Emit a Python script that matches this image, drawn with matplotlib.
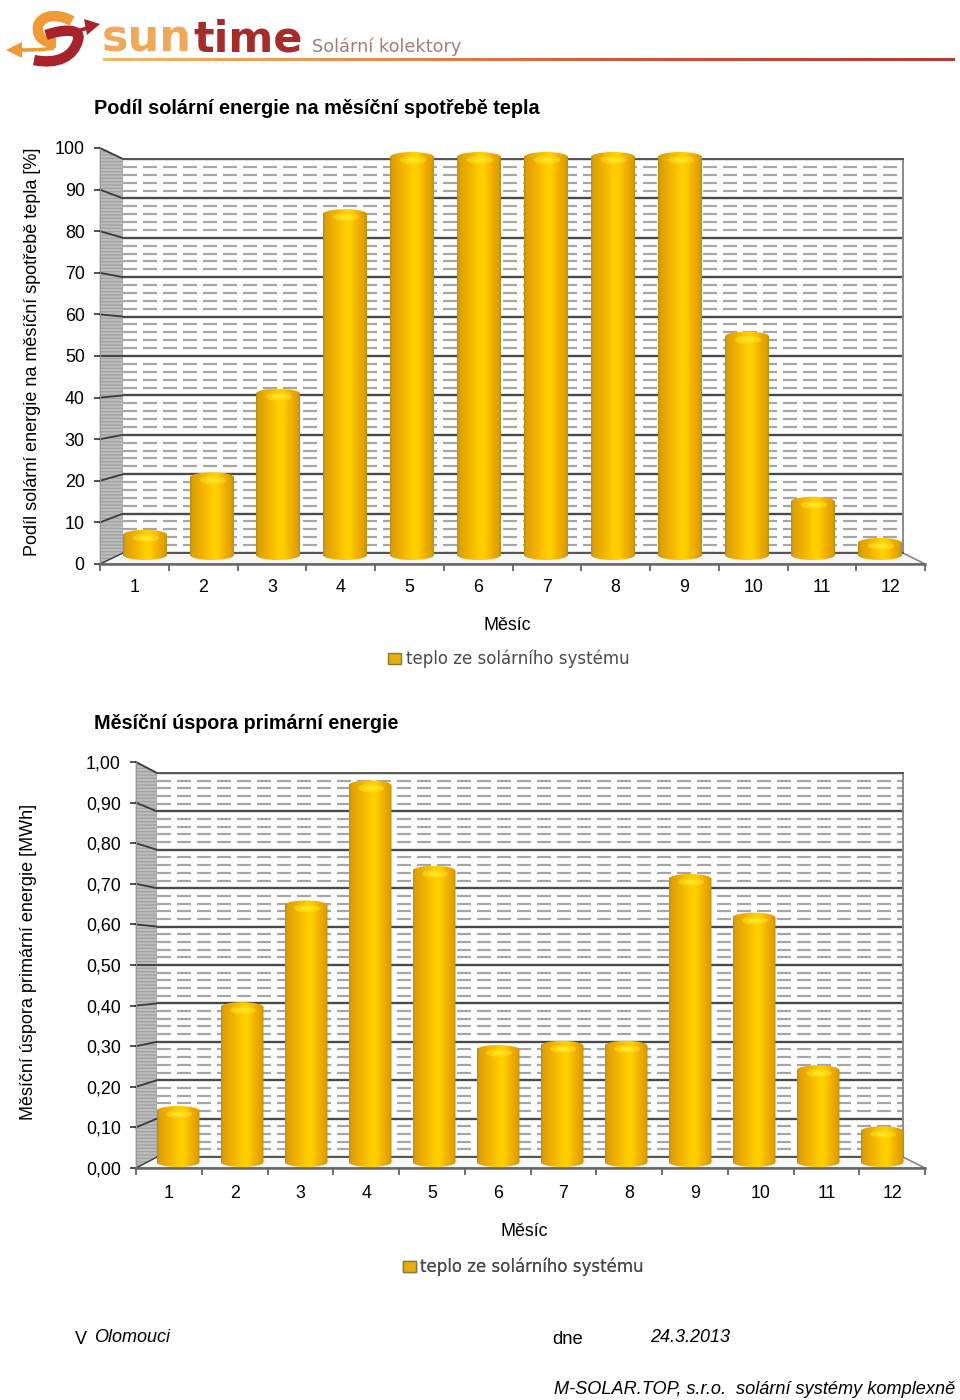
import numpy as np
import matplotlib
matplotlib.use("Agg")
import matplotlib.pyplot as plt
from matplotlib.colors import LinearSegmentedColormap
from matplotlib.patches import Polygon, PathPatch, Ellipse, Patch
from matplotlib.path import Path
from matplotlib.ticker import MultipleLocator, FixedLocator

plt.rcParams['font.family'] = ['Liberation Sans', 'DejaVu Sans']

months = [str(i) for i in range(1, 13)]
share_values = [7.4, 21.5, 42, 86, 100, 100, 100, 100, 100, 56, 15.5, 5.4]
saving_values = [0.15, 0.405, 0.655, 0.95, 0.74, 0.30, 0.31, 0.31, 0.72, 0.625, 0.25, 0.10]
share_ticks = list(range(0, 101, 10))
saving_ticks = [round(i * 0.1, 1) for i in range(11)]
title_share = "Podíl solární energie na měsíční spotřebě tepla"
title_saving = "Měsíční úspora primární energie"
ylabel_share = "Podíl solární energie na měsíční spotřebě tepla [%]"
ylabel_saving = "Měsíční úspora primární energie [MWh]"
xlabel = "Měsíc"
series = "teplo ze solárního systému"

W, H = 960, 1400
fig = plt.figure(figsize=(W / 100, H / 100), dpi=100, facecolor='white')

def px_axes(x0, y_top, x1, y_bot, z):
    ax = fig.add_axes([x0 / W, 1 - y_bot / H, (x1 - x0) / W, (y_bot - y_top) / H], zorder=z)
    ax.patch.set_alpha(0)
    return ax

deco = px_axes(0, 0, W, H, 0)
deco.set_xlim(0, W); deco.set_ylim(H, 0); deco.axis('off')

bar_cmap = LinearSegmentedColormap.from_list('cyl', [
    (0.00, '#B09020'), (0.05, '#DDA008'), (0.25, '#F0B000'), (0.50, '#FFCC00'),
    (0.62, '#FFD000'), (0.85, '#EDA800'), (0.95, '#DDA000'), (1.00, '#B09020')])
grad = np.linspace(0, 1, 128).reshape(1, -1)

def cyl_path(xc, w, v, ry):
    k = 0.5523
    l, r = xc - w / 2, xc + w / 2
    rx = w / 2
    verts = [(l, ry), (l, v - ry),
             (l, v - ry + k * ry), (xc - k * rx, v), (xc, v),
             (xc + k * rx, v), (r, v - ry + k * ry), (r, v - ry),
             (r, ry),
             (r, ry - k * ry), (xc + k * rx, 0), (xc, 0),
             (xc - k * rx, 0), (l, ry - k * ry), (l, ry),
             (l, ry)]
    codes = [Path.MOVETO, Path.LINETO] + [Path.CURVE4] * 6 + [Path.LINETO] + [Path.CURVE4] * 6 + [Path.CLOSEPOLY]
    return Path(verts, codes)

def chart(values, ticks, labels, vmax, minor, front, back, plane, centres, bar_w, xpad):
    fx0, fx1, fy_top, fy_bot = front
    bx0, bx1, by_top, by_bot = back

    # side wall and floor
    deco.add_patch(Polygon([(fx0, fy_top), (bx0, by_top), (bx0, by_bot), (fx0, fy_bot)],
                           fc='#BDBDBD', ec='#A2A2A2', lw=0.6, hatch='-----', zorder=1))
    deco.add_patch(Polygon([(fx0, fy_bot), (bx0, by_bot), (bx1, by_bot), (fx1, fy_bot)],
                           fc='#F6F6F6', ec='#808080', lw=1.1, zorder=1))
    for t in ticks:
        f = t / vmax
        yf = fy_bot + (fy_top - fy_bot) * f
        yb = by_bot + (by_top - by_bot) * f
        deco.plot([fx0, bx0], [yf, yb], color='#3A3A3A', lw=1.3 if t else 0.8, zorder=2)

    # back wall
    wall = px_axes(bx0, by_top, bx1, by_bot, 1)
    wall.patch.set_alpha(1); wall.patch.set_facecolor('white')
    wall.set_xlim(0, 1); wall.set_ylim(0, vmax)
    wall.set_xticks([])
    wall.yaxis.set_major_locator(FixedLocator(ticks))
    wall.yaxis.set_minor_locator(MultipleLocator(minor))
    wall.grid(which='major', axis='y', color='#4A4A4A', lw=1.7)
    wall.grid(which='minor', axis='y', color='#A6A6A6', lw=1.6, linestyle=(0, (6.3, 2.7)))
    wall.tick_params(which='both', left=False, labelleft=False)
    for s in wall.spines.values():
        s.set_color('#555555'); s.set_linewidth(1.4)
    wall.spines['left'].set_visible(False)
    wall.spines['right'].set_color('#8A8A8A')

    # front axis with tick labels
    fr = px_axes(fx0, fy_top, fx1, fy_bot, 2)
    fr.set_xlim(0, 12); fr.set_ylim(0, vmax)
    fr.set_xticks(np.arange(13))
    fr.set_xticklabels([])
    fr.set_xticks(np.arange(12) + 0.5, labels=months, minor=True)
    fr.set_yticks(ticks, labels=labels)
    fr.tick_params(axis='x', which='major', length=5, width=1.2, color='#555555')
    fr.tick_params(axis='x', which='minor', length=0, pad=xpad, labelsize=12.8)
    fr.tick_params(axis='y', length=4, width=1.2, color='#333333', pad=7, labelsize=12.9)
    for n in ('top', 'right'):
        fr.spines[n].set_visible(False)
    fr.spines['bottom'].set_color('#666666'); fr.spines['bottom'].set_linewidth(1.8)
    fr.spines['left'].set_color('#999999'); fr.spines['left'].set_linewidth(0.7)

    # bars
    px0, px1, py_top, py_bot = plane
    ax = px_axes(px0, py_top, px1, py_bot, 3)
    ax.set_xlim(px0, px1); ax.set_ylim(0, vmax); ax.axis('off')
    unit = (py_bot - py_top) / vmax
    ry = 5 / unit
    for xc, v in zip(centres, values):
        p = PathPatch(cyl_path(xc, bar_w, v, ry), transform=ax.transData, fc='none', ec='none', zorder=4)
        im = ax.imshow(grad, cmap=bar_cmap, aspect='auto', extent=(xc - bar_w / 2, xc + bar_w / 2, 0, v),
                       zorder=3, interpolation='bilinear')
        ax.add_patch(p)
        im.set_clip_path(p)
        ax.add_patch(Ellipse((xc + 1, v - 8 / unit), bar_w * 0.6, 8 / unit, fc='#FFE21E', ec='none', alpha=0.55, zorder=5))
        ax.add_patch(Ellipse((xc + 1, v - 8 / unit), bar_w * 0.3, 4 / unit, fc='#FFEA30', ec='none', alpha=0.7, zorder=5))
    ax.set_xlim(px0, px1); ax.set_ylim(0, vmax)
    return ax

# ---- chart 1
c1 = [145, 212, 278, 345, 412, 479, 546, 613, 680, 747, 813, 880]
chart(share_values, share_ticks, [str(t) for t in share_ticks], 100, 2,
      (100, 925, 148, 564), (123, 903, 159, 553), (111.6, 913.6, 152, 560), c1, 44, 10.5)
# ---- chart 2
c2 = [178, 242, 306, 370, 434, 498, 562, 626, 690, 754, 818, 882]
chart(saving_values, saving_ticks, [f"{t:.2f}".replace('.', ',') for t in saving_ticks], 1.0, 0.02,
      (136, 925, 762, 1168), (157, 903, 773, 1157), (146, 914, 760, 1167), c2, 43, 12)

def T(x, y, s, **k):
    k.setdefault('fontsize', 12.9)
    k.setdefault('va', 'center')
    return deco.text(x, y, s, color=k.pop('color', 'black'), zorder=10, **k)

T(94.5, 108.5, title_share, fontsize=14.3, fontweight='bold')
T(94.5, 723.5, title_saving, fontsize=14.2, fontweight='bold')
T(33, 352, ylabel_share, rotation=90, ha='center', fontsize=13)
T(29, 962, ylabel_saving, rotation=90, ha='center', fontsize=13)
T(507, 625.5, xlabel, ha='center')
T(524, 1231.5, xlabel, ha='center')

for lx, ly in ((373, 659), (388, 1267)):
    leg = deco.legend(handles=[Patch(fc='#E8AE10', ec='#8A7A30', label=series)],
                      loc='center left', bbox_to_anchor=(lx, ly), bbox_transform=deco.transData,
                      frameon=False, handlelength=0.75, handleheight=0.7, handletextpad=0.3,
                      prop={'family': 'DejaVu Sans', 'size': 12}, labelcolor='#4A4A4A')
    deco.add_artist(leg)

# footer
T(75, 1339, "V", fontsize=13)
T(94, 1338, "Olomouci", style='italic', fontsize=13)
T(552.5, 1339, "dne", fontsize=13.2)
T(650, 1338, "24.3.2013", style='italic', fontsize=13)
T(553.5, 1389.5, "M-SOLAR.TOP, s.r.o.  solární systémy komplexně", style='italic', fontsize=13.1)

# logo
line_cmap = LinearSegmentedColormap.from_list('ln', ['#F2B866', '#E8894A', '#C8503A', '#B23A32'])
deco.imshow(np.linspace(0, 1, 256).reshape(1, -1), cmap=line_cmap, aspect='auto',
            extent=(103, 955, 61, 58), zorder=2)
deco.set_xlim(0, W); deco.set_ylim(H, 0)
T(102, 52, "sun", fontsize=32, fontweight='bold', family='DejaVu Sans', color='#EFA95A', va='baseline')
T(193, 52, "time", fontsize=31, fontweight='bold', family='DejaVu Sans', color='#A62B2B', va='baseline')
T(312, 47, "Solární kolektory", fontsize=12.8, family='DejaVu Sans', color='#A67C7C')

def stroke(verts, codes, color, lw):
    deco.add_patch(PathPatch(Path(verts, codes), fc='none', ec=color, lw=lw, capstyle='butt', zorder=5))

C = Path.CURVE4; M = Path.MOVETO
stroke([(72, 21), (54, 11), (36, 17), (38, 31), (39, 40), (48, 43), (56, 43)], [M, C, C, C, C, C, C], '#F09A35', 7.5)
stroke([(54, 48), (42, 50), (30, 50), (18, 50)], [M, C, C, C], '#F09A35', 2.6)
deco.add_patch(Polygon([(6, 50), (22, 42), (22, 58)], fc='#F09A35', ec='none', zorder=5))
stroke([(46, 35), (60, 30), (82, 27), (78, 40), (74, 56), (58, 65), (34, 60)], [M, C, C, C, C, C, C], '#A8222A', 7.5)
stroke([(68, 34), (78, 31), (84, 29), (90, 27)], [M, C, C, C], '#A8222A', 2.6)
deco.add_patch(Polygon([(100, 24), (84, 19), (87, 35)], fc='#A8222A', ec='none', zorder=5))

fig.savefig('out.png', dpi=100, facecolor='white')
